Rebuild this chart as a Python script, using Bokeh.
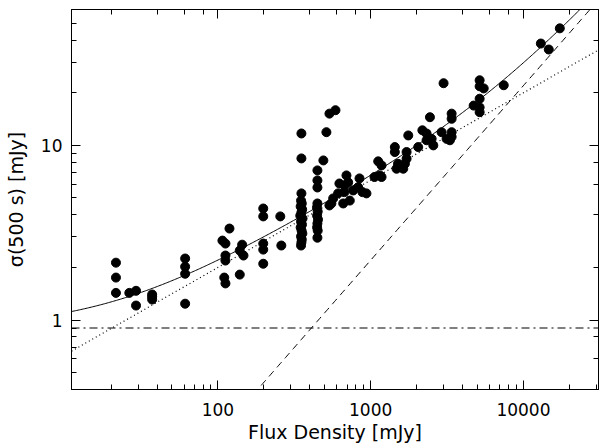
import numpy as np
from bokeh.plotting import figure
from bokeh.models import LogAxis, PrintfTickFormatter
from bokeh.embed import file_html
from bokeh.resources import INLINE

# Measured sources: flux density [mJy] and sigma(500 s) [mJy]
flux = [
    21.5, 21.5, 21.5, 26.3, 29.1, 29.1, 37.1, 37.1, 37.1,
    61, 61, 61, 61,
    107, 112, 119, 112, 112, 110, 112,
    144, 139, 147, 139,
    198, 198, 198, 198, 198, 256, 260,
    352, 352, 352, 350, 354, 348, 356, 352, 346, 358, 350, 355, 348, 353, 357, 350, 354, 352, 350,
    448, 448, 448, 448, 445, 450, 446, 452, 448, 446, 450, 448,
    490, 513, 537, 588,
    553, 612, 624, 661, 673, 694, 712, 730, 768, 828, 845, 883, 938, 568, 537, 673,
    1059, 1148, 1120, 1178, 1178,
    1439, 1439, 1718, 1718, 1675, 1477, 1634, 1510, 1762,
    2047, 2180, 2322, 2443, 2506, 2570, 2322, 2912, 3140,
    3388, 3388, 3388, 3388, 3300, 3000,
    5167, 5167, 5495, 7430, 5167, 4721, 5167, 5167,
    13000, 14650, 17300,
]
sigma = [
    2.13, 1.75, 1.43, 1.43, 1.47, 1.21, 1.40, 1.36, 1.31,
    2.25, 2.02, 1.84, 1.24,
    2.85, 2.74, 3.34, 2.34, 2.19, 1.75, 1.62,
    2.70, 2.50, 2.34, 1.82,
    2.74, 2.53, 2.10, 4.35, 3.92, 3.92, 2.67,
    11.7, 8.42, 5.31, 4.83, 4.65, 4.47, 4.30, 4.13, 3.96, 3.81, 3.66, 3.52, 3.39, 3.25, 3.13, 3.01, 2.89, 2.78, 2.67,
    7.19, 6.30, 5.74, 4.65, 4.41, 4.18, 3.96, 3.76, 3.57, 3.39, 3.25, 2.96,
    8.20, 11.9, 15.2, 15.9,
    4.65, 5.31, 6.05, 4.65, 5.40, 6.73, 6.14, 4.83, 5.52, 5.76, 6.47, 5.40, 5.31, 4.97, 4.53, 5.90,
    6.59, 6.73, 8.10, 7.68, 6.59,
    9.78, 9.16, 9.16, 8.39, 7.85, 7.35, 7.35, 7.85, 11.4,
    9.78, 12.2, 11.7, 14.5, 10.9, 10.0, 10.7, 11.9, 10.9,
    15.2, 14.2, 11.9, 11.2, 10.7, 22.7,
    23.6, 21.8, 21.2, 22.1, 18.5, 16.9, 16.5, 15.5,
    38.3, 35.4, 46.8,
]

# Noise model components
noise_floor = 0.9      # constant term [mJy]
sqrt_coeff = 0.2       # term proportional to sqrt(S)
lin_coeff = 0.0022     # term proportional to S

x_lim = (11, 31000)
y_lim = (0.4, 60)
x_major = [100, 1000, 10000]
y_major = [1, 10]

FONT = "DejaVu Sans"

p = figure(width=601, height=446, x_axis_type="log", y_axis_type="log",
           x_range=x_lim, y_range=y_lim, output_backend="svg",
           toolbar_location=None,
           min_border_left=71, min_border_right=3, min_border_top=9,
           min_border_bottom=57,
           x_axis_label="Flux Density [mJy]", y_axis_label="σ(500 s) [mJy]")
p.grid.visible = False
p.outline_line_color = "black"
p.background_fill_color = "white"
p.border_fill_color = "white"


def style(ax):
    ax.major_tick_in = 9
    ax.major_tick_out = 0
    ax.minor_tick_in = 5
    ax.minor_tick_out = 0
    ax.axis_line_color = "black"
    ax.major_tick_line_color = "black"
    ax.minor_tick_line_color = "black"
    ax.major_label_text_font = FONT
    ax.major_label_text_font_size = "17px"
    ax.major_label_text_color = "black"
    ax.axis_label_text_font = FONT
    ax.axis_label_text_font_size = "19px"
    ax.axis_label_text_font_style = "normal"
    ax.axis_label_text_color = "black"
    ax.formatter = PrintfTickFormatter(format="%d")


for ax in p.xaxis:
    style(ax)
    ax.major_label_standoff = 13
    ax.axis_label_standoff = 2
for ax in p.yaxis:
    style(ax)
    ax.major_label_standoff = 9
    ax.axis_label_standoff = 11

top = LogAxis()
right = LogAxis()
for ax, ticks in ((top, x_major), (right, y_major)):
    style(ax)
    ax.major_label_standoff = 0
    ax.major_label_overrides = {t: "" for t in ticks}
p.add_layout(top, "above")
p.add_layout(right, "right")

S = np.logspace(np.log10(x_lim[0]), np.log10(x_lim[1]), 400)
p.line(S, np.full_like(S, noise_floor), line_color="black", line_width=1.2,
       line_dash="8 4 2 4")
p.line(S, sqrt_coeff * np.sqrt(S), line_color="black", line_width=1.2,
       line_dash="1 3")
p.line(S, lin_coeff * S, line_color="black", line_width=1, line_dash="7 5")
p.line(S, np.sqrt(noise_floor ** 2 + sqrt_coeff ** 2 * S + (lin_coeff * S) ** 2),
       line_color="black", line_width=1)

p.scatter(flux, sigma, size=9, color="black")

open("out.html", "w").write(file_html(p, INLINE))
